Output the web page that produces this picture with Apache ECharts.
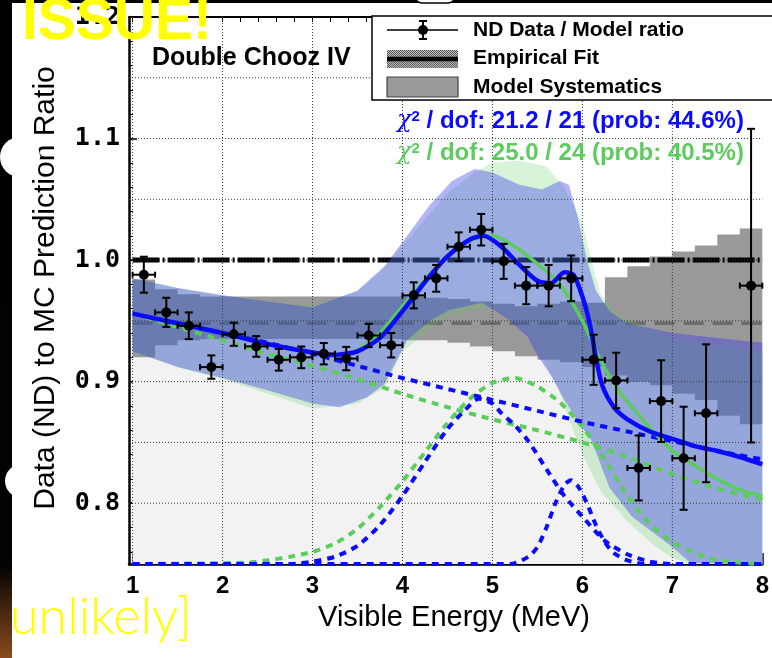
<!DOCTYPE html>
<html>
<head>
<meta charset="utf-8">
<script src="https://cdn.jsdelivr.net/npm/echarts@6/dist/echarts.min.js"></script>
<style>
  html, body { margin: 0; padding: 0; background: #ffffff; }
  #chart { width: 772px; height: 658px; }
</style>
</head>
<body>
<div id="chart"></div>
<script>
// ---- Axis ranges and tick labels ----
const xMin = 0.96, xMax = 8.0;
const yMin = 0.75, yMax = 1.2;
const xTickLabels = [1, 2, 3, 4, 5, 6, 7, 8];
const yTickLabels = [0.8, 0.9, 1.0, 1.1, 1.2];
const xGridValues = [1, 2, 3, 4, 5, 6, 7];
const yGridValues = [0.8, 0.85, 0.9, 0.95, 1.0, 1.05, 1.1, 1.15];

// ---- ND data / model ratio (0.25 MeV bins) ----
const binCenters = [1.125, 1.375, 1.625, 1.875, 2.125, 2.375, 2.625, 2.875, 3.125, 3.375,
                    3.625, 3.875, 4.125, 4.375, 4.625, 4.875, 5.125, 5.375, 5.625, 5.875,
                    6.125, 6.375, 6.625, 6.875, 7.125, 7.375, 7.625, 7.875];
const binHalfWidth = 0.125;
const ratio = [0.988, 0.957, 0.946, 0.912, 0.939, 0.929, 0.918, 0.920, 0.923, 0.919,
               0.938, 0.930, 0.971, 0.985, 1.011, 1.025, 0.999, 0.979, 0.979, 0.985,
               0.918, 0.901, 0.829, 0.884, 0.837, 0.874, null, 0.979];
const ratioErr = [0.0148, 0.012, 0.011, 0.0096, 0.0095, 0.0085, 0.0089, 0.0089, 0.0088, 0.0096,
                  0.0096, 0.0101, 0.0107, 0.011, 0.0118, 0.013, 0.0144, 0.0153, 0.017, 0.0188,
                  0.0206, 0.0228, 0.0267, 0.0336, 0.0424, 0.0567, null, 0.129];

// ---- Model systematics band (per 0.25 MeV bin, edges 1.0 ... 8.0) ----
const sysEdges = [1.0, 1.25, 1.5, 1.75, 2.0, 2.25, 2.5, 2.75, 3.0, 3.25, 3.5, 3.75, 4.0, 4.25,
                  4.5, 4.75, 5.0, 5.25, 5.5, 5.75, 6.0, 6.25, 6.5, 6.75, 7.0, 7.25, 7.5, 7.75, 8.0];
const sysLow  = [0.920, 0.930, 0.934, 0.935, 0.935, 0.935, 0.935, 0.935, 0.935, 0.935, 0.935, 0.935,
                 0.934, 0.934, 0.932, 0.929, 0.925, 0.921, 0.918, 0.916, 0.912, 0.905, 0.900, 0.897,
                 0.890, 0.885, 0.872, 0.865];
const sysHigh = [0.984, 0.976, 0.972, 0.970, 0.970, 0.970, 0.970, 0.970, 0.970, 0.970, 0.970, 0.970,
                 0.970, 0.969, 0.968, 0.966, 0.964, 0.962, 0.964, 0.966, 0.965, 0.986, 0.995, 1.003,
                 1.007, 1.012, 1.021, 1.026];

// ---- Empirical fit level and unity reference ----
const empiricalLine = [[1.0, 0.948], [8.0, 0.948]];
const unityLine = [[1.0, 1.0], [8.0, 1.0]];

// ---- Blue model: total fit, baseline and two gaussian components ----
const blueFit = [[1.0, 0.956], [1.5, 0.948], [2.0, 0.940], [2.5, 0.931], [3.0, 0.924], [3.25, 0.922],
                 [3.5, 0.925], [3.75, 0.936], [4.0, 0.958], [4.25, 0.982], [4.5, 1.003], [4.75, 1.017],
                 [4.9, 1.020], [5.1, 1.011], [5.3, 0.996], [5.5, 0.983], [5.65, 0.981], [5.8, 0.990],
                 [5.9, 0.988], [6.0, 0.970], [6.08, 0.948], [6.15, 0.920], [6.22, 0.897], [6.35, 0.879],
                 [6.5, 0.869], [6.75, 0.859], [7.0, 0.853], [7.25, 0.847], [7.5, 0.843], [7.75, 0.838],
                 [8.0, 0.832]];
const blueBase = [[1.0, 0.956], [1.5, 0.948], [2.0, 0.940], [2.5, 0.932], [3.0, 0.923], [3.5, 0.913],
                  [4.0, 0.903], [4.5, 0.894], [5.0, 0.885], [5.5, 0.876], [6.0, 0.867], [6.5, 0.859],
                  [7.0, 0.851], [7.5, 0.843], [8.0, 0.836]];
const blueGausBig = [[1.0, 0.750], [2.75, 0.750], [3.0, 0.752], [3.25, 0.756], [3.5, 0.765], [3.75, 0.782],
                     [4.0, 0.806], [4.25, 0.834], [4.5, 0.861], [4.7, 0.877], [4.85, 0.886], [5.0, 0.882],
                     [5.1, 0.874], [5.25, 0.864], [5.4, 0.851], [5.6, 0.828], [5.8, 0.806], [6.0, 0.789],
                     [6.25, 0.769], [6.5, 0.758], [6.75, 0.752], [7.0, 0.750], [8.0, 0.750]];
const blueGausSmall = [[1.0, 0.750], [5.2, 0.750], [5.4, 0.756], [5.5, 0.764], [5.6, 0.780], [5.7, 0.800],
                       [5.8, 0.815], [5.87, 0.819], [5.95, 0.814], [6.05, 0.800], [6.15, 0.782], [6.25, 0.768],
                       [6.35, 0.759], [6.5, 0.753], [6.7, 0.750], [8.0, 0.750]];

// ---- Green model: total fit, baseline and gaussian component ----
const greenFit = [[1.0, 0.956], [1.5, 0.948], [2.0, 0.940], [2.5, 0.931], [3.0, 0.924], [3.25, 0.922],
                  [3.5, 0.926], [3.75, 0.940], [4.0, 0.962], [4.25, 0.984], [4.5, 1.003], [4.75, 1.016],
                  [5.0, 1.020], [5.25, 1.011], [5.5, 0.997], [5.75, 0.980], [6.0, 0.950], [6.2, 0.918],
                  [6.4, 0.893], [6.6, 0.875], [6.8, 0.858], [7.0, 0.843], [7.25, 0.831], [7.5, 0.820],
                  [7.75, 0.811], [8.0, 0.806]];
const greenBase = [[1.0, 0.956], [1.5, 0.945], [2.0, 0.934], [2.5, 0.923], [3.0, 0.913], [3.5, 0.902],
                   [4.0, 0.890], [4.5, 0.879], [5.0, 0.869], [5.5, 0.860], [6.0, 0.850], [6.5, 0.838],
                   [7.0, 0.824], [7.5, 0.812], [8.0, 0.803]];
const greenGaus = [[1.0, 0.750], [2.25, 0.751], [2.5, 0.753], [2.75, 0.756], [3.0, 0.760], [3.25, 0.767],
                   [3.5, 0.779], [3.75, 0.797], [4.0, 0.818], [4.25, 0.842], [4.5, 0.866], [4.75, 0.886],
                   [5.0, 0.899], [5.25, 0.903], [5.5, 0.896], [5.75, 0.883], [6.0, 0.863], [6.25, 0.836],
                   [6.5, 0.806], [6.75, 0.783], [7.0, 0.768], [7.25, 0.759], [7.5, 0.753], [8.0, 0.750]];

// ---- Fit uncertainty bands ----
const blueBandUpper = [[1.0, 0.985], [1.5, 0.977], [2.0, 0.971], [2.5, 0.966], [3.0, 0.961], [3.5, 0.975],
                       [3.8, 0.995], [4.0, 1.015], [4.3, 1.045], [4.55, 1.065], [4.8, 1.075], [5.0, 1.072],
                       [5.3, 1.062], [5.55, 1.058], [5.75, 1.065], [5.85, 1.062], [5.95, 1.035], [6.05, 1.000],
                       [6.15, 0.975], [6.3, 0.958], [6.5, 0.948], [7.0, 0.940], [7.5, 0.936], [8.0, 0.932]];
const blueBandLower = [[1.0, 0.925], [1.5, 0.912], [2.0, 0.903], [2.5, 0.893], [3.0, 0.882], [3.3, 0.879],
                       [3.6, 0.887], [3.8, 0.898], [4.05, 0.934], [4.3, 0.950], [4.52, 0.959], [4.88, 0.965],
                       [5.02, 0.959], [5.2, 0.950], [5.39, 0.937], [5.5, 0.922], [5.65, 0.905], [5.8, 0.885],
                       [6.0, 0.862], [6.1, 0.852], [6.3, 0.813], [6.55, 0.789], [7.0, 0.764], [7.2, 0.751],
                       [8.0, 0.750]];
const greenBandUpper = [[1.0, 0.985], [1.5, 0.977], [2.0, 0.971], [2.5, 0.966], [3.0, 0.962], [3.5, 0.974],
                        [3.8, 0.994], [4.0, 1.012], [4.5, 1.055], [4.8, 1.072], [5.0, 1.080], [5.3, 1.082],
                        [5.6, 1.077], [5.8, 1.060], [6.0, 1.030], [6.1, 1.000], [6.2, 0.972], [6.4, 0.955],
                        [6.7, 0.945], [7.0, 0.935], [8.0, 0.925]];
const greenBandLower = [[1.0, 0.925], [1.5, 0.912], [2.0, 0.902], [2.5, 0.890], [3.0, 0.878], [3.5, 0.882],
                        [3.8, 0.895], [4.0, 0.925], [4.5, 0.955], [5.0, 0.962], [5.4, 0.940], [5.7, 0.900],
                        [6.0, 0.840], [6.2, 0.810], [6.5, 0.785], [6.8, 0.765], [7.0, 0.755], [7.2, 0.750],
                        [8.0, 0.750]];

// ---- Colours ----
const BLUE = '#0a0aff';
const GREEN = '#5ccc5c';
const GRAY = '#999999';
const PALE = '#f2f2f2';
const BLUE_BAND = 'rgba(50,50,240,0.37)';
const GREEN_BAND = 'rgba(90,210,90,0.24)';

// Fine checker texture for the legend's empirical-fit swatch
function checkerTile() {
  const c = document.createElement('canvas');
  c.width = 2; c.height = 2;
  const g = c.getContext('2d');
  g.fillStyle = '#bdbdbd'; g.fillRect(0, 0, 2, 2);
  g.fillStyle = '#5a5a5a'; g.fillRect(0, 0, 1, 1); g.fillRect(1, 1, 1, 1);
  return c;
}
const grayTile = checkerTile();

function bandPoints(api, upper, lower) {
  const pts = [];
  upper.forEach(p => pts.push(api.coord(p)));
  for (let i = lower.length - 1; i >= 0; i--) pts.push(api.coord(lower[i]));
  return pts;
}
// Histogram-style band between per-bin lower and upper values
function stepBandSeries(name, edges, low, high, fill, z) {
  return {
    type: 'custom', name, z, silent: true,
    coordinateSystem: 'cartesian2d', xAxisIndex: 0, yAxisIndex: 0,
    data: [[xMin, yMin]],
    renderItem: (params, api) => {
      const pts = [];
      for (let i = 0; i < low.length; i++) {
        pts.push(api.coord([edges[i], high[i]]));
        pts.push(api.coord([edges[i + 1], high[i]]));
      }
      for (let i = low.length - 1; i >= 0; i--) {
        pts.push(api.coord([edges[i + 1], low[i]]));
        pts.push(api.coord([edges[i], low[i]]));
      }
      return { type: 'polygon', shape: { points: pts }, style: { fill: fill } };
    }
  };
}
function curve(name, data, color, width, dash, z, smooth) {
  return {
    type: 'line', name, data, z, silent: true,
    xAxisIndex: 0, yAxisIndex: 0,
    showSymbol: false, symbol: 'none',
    smooth: smooth === undefined ? 0.25 : smooth,
    lineStyle: { color, width, type: dash || 'solid', cap: 'butt' },
    animation: false
  };
}

// Pale under-band region spans from the axis floor up to the systematics band
const paleFloor = sysLow.map(() => yMin);

// Minor tick positions
const xMinorTicks = [];
for (let v = 1.2; v < 8.0; v += 0.2) xMinorTicks.push(+v.toFixed(2));
const xTopTicks = [];
for (let v = 1.0; v <= 8.0001; v += 0.2) xTopTicks.push(+v.toFixed(2));
const yMinorTicks = [];
for (let v = 0.76; v < 1.2; v += 0.02) yMinorTicks.push(+v.toFixed(2));

const points = [];
binCenters.forEach((x, i) => { if (ratio[i] !== null) points.push([x, ratio[i], ratioErr[i]]); });

const gridLineStyle = { stroke: '#3a3a3a', lineWidth: 1, lineDash: [1, 2] };
const labelFont = '"Liberation Sans", Arial, sans-serif';

const option = {
  animation: false,
  backgroundColor: '#ffffff',
  grid: { left: 129, right: -5, top: 17, bottom: 94, containLabel: false },
  xAxis: [
    {
      type: 'value', min: xMin, max: xMax, position: 'bottom',
      axisLine: { show: true, onZero: false, lineStyle: { color: '#000', width: 2.5 } },
      axisTick: { show: true, inside: true, length: 11, customValues: xTickLabels, lineStyle: { color: '#000', width: 1.5 } },
      axisLabel: { show: true, customValues: xTickLabels, margin: 10, color: '#000',
                   fontFamily: 'Liberation Sans', fontWeight: 'bold', fontSize: 24,
                   formatter: v => String(Math.round(v)) },
      splitLine: { show: false }
    },
    {
      type: 'value', min: xMin, max: xMax, position: 'bottom',
      axisLine: { show: false },
      axisTick: { show: true, inside: true, length: 5, customValues: xMinorTicks, lineStyle: { color: '#000', width: 1 } },
      axisLabel: { show: false }, splitLine: { show: false }
    },
    {
      type: 'value', min: xMin, max: xMax, position: 'top',
      axisLine: { show: true, onZero: false, lineStyle: { color: '#000', width: 2 } },
      axisTick: { show: true, inside: true, length: 5, customValues: xTopTicks, lineStyle: { color: '#000', width: 1 } },
      axisLabel: { show: false }, splitLine: { show: false }
    }
  ],
  yAxis: [
    {
      type: 'value', min: yMin, max: yMax, position: 'left',
      axisLine: { show: true, onZero: false, lineStyle: { color: '#000', width: 2.5 } },
      axisTick: { show: true, inside: true, length: 8, customValues: yTickLabels, lineStyle: { color: '#000', width: 1.5 } },
      axisLabel: { show: true, customValues: yTickLabels, margin: 9, color: '#000',
                   fontFamily: 'DejaVu Sans Mono', fontWeight: 'bold', fontSize: 25,
                   formatter: v => v.toFixed(1) },
      splitLine: { show: false }
    },
    {
      type: 'value', min: yMin, max: yMax, position: 'left',
      axisLine: { show: false },
      axisTick: { show: true, inside: true, length: 4, customValues: yMinorTicks, lineStyle: { color: '#000', width: 1 } },
      axisLabel: { show: false }, splitLine: { show: false }
    }
  ],
  series: [
    stepBandSeries('pale', sysEdges, paleFloor, sysLow, PALE, 1),
    stepBandSeries('Model Systematics', sysEdges, sysLow, sysHigh, GRAY, 2),
    curve('Empirical Fit', empiricalLine, '#6b6b6b', 3.5, [20, 9], 3, false),
    curve('unity', unityLine, '#000000', 5, [27, 3, 2, 3], 3, false),
    {
      // Fit uncertainty bands: green model first, blue model tinted over it
      type: 'custom', name: 'fit bands', z: 4, silent: true,
      coordinateSystem: 'cartesian2d', xAxisIndex: 0, yAxisIndex: 0,
      data: [[xMin, yMin]],
      renderItem: (params, api) => ({
        type: 'group',
        children: [
          { type: 'polygon', shape: { points: bandPoints(api, greenBandUpper, greenBandLower) },
            style: { fill: GREEN_BAND } },
          { type: 'polygon', shape: { points: bandPoints(api, blueBandUpper, blueBandLower) },
            style: { fill: BLUE_BAND } }
        ]
      })
    },
    {
      type: 'custom', name: 'grid', z: 6, silent: true,
      coordinateSystem: 'cartesian2d', xAxisIndex: 0, yAxisIndex: 0,
      data: [[xMin, yMin]],
      renderItem: (params, api) => {
        const kids = [];
        xGridValues.forEach(x => {
          const a = api.coord([x, yMin]), b = api.coord([x, yMax]);
          kids.push({ type: 'line', shape: { x1: a[0], y1: a[1], x2: b[0], y2: b[1] }, style: gridLineStyle });
        });
        yGridValues.forEach(y => {
          const a = api.coord([xMin, y]), b = api.coord([xMax, y]);
          kids.push({ type: 'line', shape: { x1: a[0], y1: a[1], x2: b[0], y2: b[1] }, style: gridLineStyle });
        });
        return { type: 'group', children: kids };
      }
    },
    curve('green baseline', greenBase, GREEN, 4, [7, 6], 7),
    curve('green gaussian', greenGaus, GREEN, 4, [7, 6], 7),
    curve('blue baseline', blueBase, BLUE, 4, [7, 6], 7),
    curve('blue gaussian', blueGausBig, BLUE, 4, [7, 6], 7),
    curve('blue gaussian 2', blueGausSmall, BLUE, 4, [7, 6], 7),
    curve('green fit', greenFit, GREEN, 3.5, 'solid', 8),
    curve('blue fit', blueFit, BLUE, 4.5, 'solid', 9),
    {
      type: 'custom', name: 'ND Data / Model ratio', z: 10, silent: true,
      coordinateSystem: 'cartesian2d', xAxisIndex: 0, yAxisIndex: 0,
      encode: { x: 0, y: 1 },
      data: points,
      renderItem: (params, api) => {
        const x = api.value(0), y = api.value(1), e = api.value(2);
        const c = api.coord([x, y]);
        const t = api.coord([x, y + e]), b = api.coord([x, y - e]);
        const l = api.coord([x - binHalfWidth, y]), r = api.coord([x + binHalfWidth, y]);
        const st = { stroke: '#000', lineWidth: 2 };
        return {
          type: 'group', children: [
            { type: 'line', shape: { x1: c[0], y1: t[1], x2: c[0], y2: b[1] }, style: st },
            { type: 'line', shape: { x1: c[0] - 4, y1: t[1], x2: c[0] + 4, y2: t[1] }, style: st },
            { type: 'line', shape: { x1: c[0] - 4, y1: b[1], x2: c[0] + 4, y2: b[1] }, style: st },
            { type: 'line', shape: { x1: l[0], y1: c[1], x2: r[0], y2: c[1] }, style: st },
            { type: 'line', shape: { x1: l[0], y1: c[1] - 3, x2: l[0], y2: c[1] + 3 }, style: st },
            { type: 'line', shape: { x1: r[0], y1: c[1] - 3, x2: r[0], y2: c[1] + 3 }, style: st },
            { type: 'circle', shape: { cx: c[0], cy: c[1], r: 5 }, style: { fill: '#000' } }
          ]
        };
      }
    }
  ],
  graphic: [
    // Legend box
    { type: 'rect', z: 100, shape: { x: 372, y: 16, width: 420, height: 84 },
      style: { fill: '#fff', stroke: '#000', lineWidth: 1.5 } },
    { type: 'line', z: 101, shape: { x1: 387, y1: 30, x2: 458, y2: 30 }, style: { stroke: '#000', lineWidth: 1.5 } },
    { type: 'line', z: 101, shape: { x1: 423, y1: 21, x2: 423, y2: 39 }, style: { stroke: '#000', lineWidth: 2 } },
    { type: 'line', z: 101, shape: { x1: 419, y1: 21, x2: 427, y2: 21 }, style: { stroke: '#000', lineWidth: 2 } },
    { type: 'line', z: 101, shape: { x1: 419, y1: 39, x2: 427, y2: 39 }, style: { stroke: '#000', lineWidth: 2 } },
    { type: 'circle', z: 101, shape: { cx: 423, cy: 30, r: 5 }, style: { fill: '#000' } },
    { type: 'rect', z: 101, shape: { x: 387, y: 50, width: 71, height: 18 }, style: { fill: { image: grayTile, repeat: 'repeat' } } },
    { type: 'line', z: 102, shape: { x1: 387, y1: 59, x2: 458, y2: 59 }, style: { stroke: '#000', lineWidth: 4.5 } },
    { type: 'rect', z: 101, shape: { x: 387, y: 77, width: 71, height: 20 }, style: { fill: GRAY, stroke: '#444', lineWidth: 1.2 } },
    { type: 'text', z: 101, x: 473, y: 30, style: { text: 'ND Data / Model ratio', fill: '#000',
      font: 'bold 21px ' + labelFont, textVerticalAlign: 'middle' } },
    { type: 'text', z: 101, x: 473, y: 58, style: { text: 'Empirical Fit', fill: '#000',
      font: 'bold 21px ' + labelFont, textVerticalAlign: 'middle' } },
    { type: 'text', z: 101, x: 473, y: 87, style: { text: 'Model Systematics', fill: '#000',
      font: 'bold 21px ' + labelFont, textVerticalAlign: 'middle' } },
    // Experiment label
    { type: 'text', z: 101, x: 152, y: 58, style: { text: 'Double Chooz IV', fill: '#000',
      font: 'bold 25px ' + labelFont, textVerticalAlign: 'middle' } },
    // Goodness-of-fit lines
    { type: 'text', z: 101, x: 397, y: 121, style: {
      text: '{c|χ}{s|2}{t| / dof: 21.2 / 21 (prob: 44.6%)}',
      textVerticalAlign: 'middle',
      rich: {
        c: { fill: BLUE, fontSize: 24, fontFamily: 'DejaVu Serif', fontStyle: 'italic', verticalAlign: 'bottom' },
        s: { fill: BLUE, fontSize: 15, fontWeight: 'bold', fontFamily: 'Liberation Sans', verticalAlign: 'top' },
        t: { fill: BLUE, fontSize: 24, fontWeight: 'bold', fontFamily: 'Liberation Sans', verticalAlign: 'bottom' }
      } } },
    { type: 'text', z: 101, x: 397, y: 153, style: {
      text: '{c|χ}{s|2}{t| / dof: 25.0 / 24 (prob: 40.5%)}',
      textVerticalAlign: 'middle',
      rich: {
        c: { fill: GREEN, fontSize: 24, fontFamily: 'DejaVu Serif', fontStyle: 'italic', verticalAlign: 'bottom' },
        s: { fill: GREEN, fontSize: 15, fontWeight: 'bold', fontFamily: 'Liberation Sans', verticalAlign: 'top' },
        t: { fill: GREEN, fontSize: 24, fontWeight: 'bold', fontFamily: 'Liberation Sans', verticalAlign: 'bottom' }
      } } },
    // Axis titles
    { type: 'text', z: 101, x: 454, y: 618, style: { text: 'Visible Energy (MeV)', fill: '#000',
      font: '29px ' + labelFont, textAlign: 'center', textVerticalAlign: 'middle' } },
    { type: 'text', z: 101, x: 46, y: 288, rotation: Math.PI / 2, style: { text: 'Data (ND) to MC Prediction Ratio', fill: '#000',
      font: '30px ' + labelFont, textAlign: 'center', textVerticalAlign: 'middle' } },
    // Slide surround
    { type: 'rect', z: 200, shape: { x: 0, y: 0, width: 772, height: 3 }, style: { fill: '#000' } },
    { type: 'rect', z: 201, shape: { x: 415, y: -12, width: 40, height: 15, r: 7 }, style: { fill: '#fff', stroke: '#000', lineWidth: 1.5 } },
    { type: 'rect', z: 200, shape: { x: 0, y: 0, width: 12, height: 658 },
      style: { fill: { type: 'linear', x: 0, y: 0, x2: 0, y2: 1, colorStops: [
        { offset: 0, color: '#000' }, { offset: 0.86, color: '#050302' }, { offset: 1, color: '#8a4b1e' } ] } } },
    { type: 'circle', z: 201, shape: { cx: 22, cy: 481, r: 17 }, style: { fill: '#fff' } },
    { type: 'circle', z: 201, shape: { cx: 20, cy: 157, r: 20 }, style: { fill: '#fff' } },
    { type: 'text', z: 210, x: 22, y: 23, style: { text: 'ISSUE!', fill: '#ffff00',
      font: 'bold 57px ' + labelFont, textVerticalAlign: 'middle' } },
    { type: 'text', z: 210, x: 10, y: 617, style: { text: 'unlikely]', fill: '#ffff00',
      font: '300 52px Lato, "Open Sans", sans-serif', textVerticalAlign: 'middle' } }
  ]
};

const chart = echarts.init(document.getElementById('chart'), null, { renderer: 'canvas', width: 772, height: 658 });
chart.setOption(option);
</script>
</body>
</html>
